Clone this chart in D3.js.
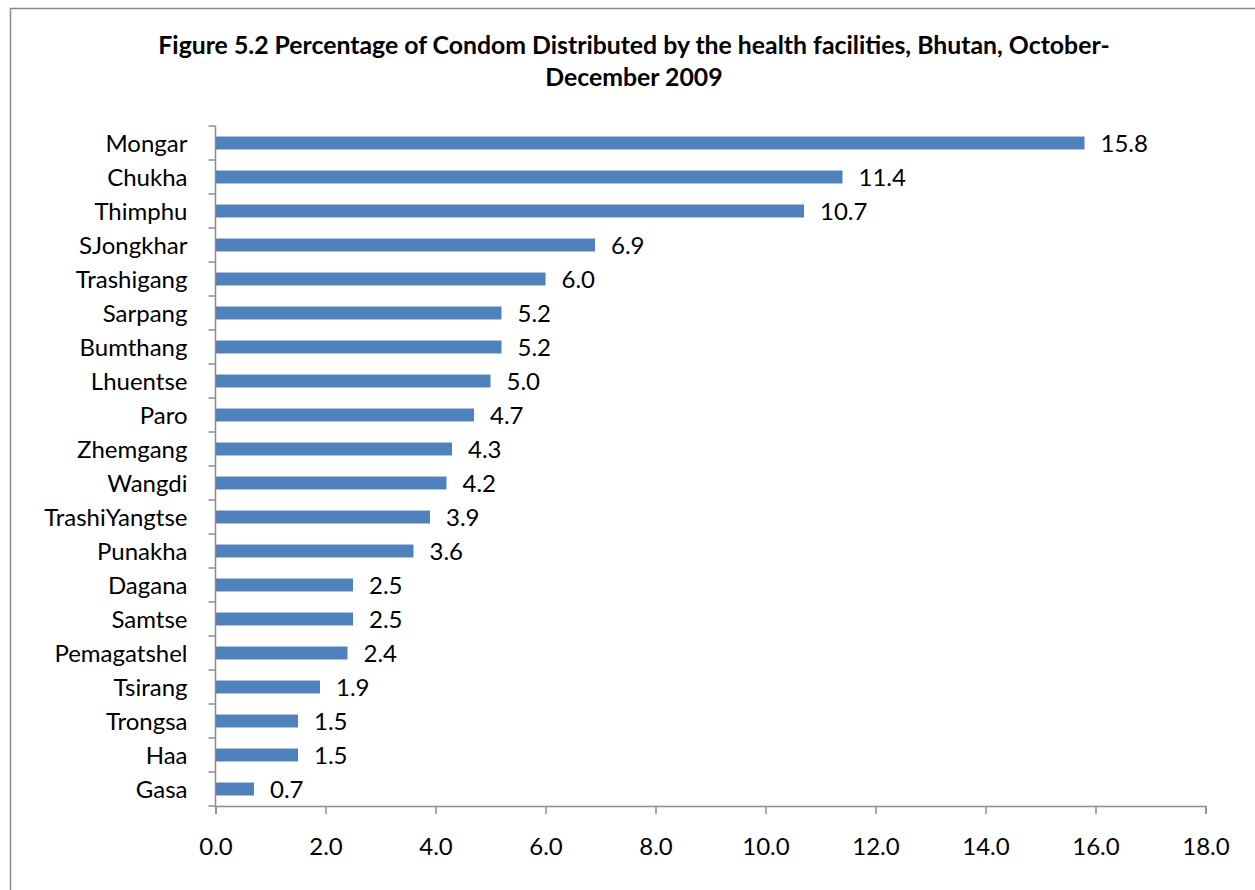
<!DOCTYPE html>
<html>
<head>
<meta charset="utf-8">
<script src="https://cdn.jsdelivr.net/npm/d3@7/dist/d3.min.js"></script>
<style>
  html, body { margin: 0; padding: 0; background: #fff; }
  svg { display: block; }
  text { font-family: Lato, "Liberation Sans", sans-serif; fill: #000; }
</style>
</head>
<body>
<script>
// District names and the share of condoms distributed (%)
const districts = ["Mongar", "Chukha", "Thimphu", "SJongkhar", "Trashigang", "Sarpang",
  "Bumthang", "Lhuentse", "Paro", "Zhemgang", "Wangdi", "TrashiYangtse", "Punakha",
  "Dagana", "Samtse", "Pemagatshel", "Tsirang", "Trongsa", "Haa", "Gasa"];
const shares = [15.8, 11.4, 10.7, 6.9, 6.0, 5.2, 5.2, 5.0, 4.7, 4.3, 4.2, 3.9, 3.6,
  2.5, 2.5, 2.4, 1.9, 1.5, 1.5, 0.7];
const xTicks = [0, 2, 4, 6, 8, 10, 12, 14, 16, 18];
const titleLines = ["Figure 5.2 Percentage of Condom Distributed by the health facilities, Bhutan, October-",
  "December 2009"];

const W = 1255, H = 890;
const svg = d3.select("body").append("svg").attr("width", W).attr("height", H);

// outer chart frame
svg.append("rect")
  .attr("x", 10.5).attr("y", 8.5).attr("width", W + 20).attr("height", H + 20)
  .attr("fill", "none").attr("stroke", "#8a8a8a").attr("stroke-width", 1.5);

// title
svg.append("g").selectAll("text").data(titleLines).join("text")
  .attr("x", 634).attr("y", (d, i) => 54 + i * 32)
  .attr("text-anchor", "middle")
  .attr("font-size", 24.8).attr("font-weight", "bold")
  .text(d => d);

const rows = districts.map((d, i) => ({ name: d, value: shares[i] }));

const x = d3.scaleLinear().domain([0, 18]).range([215.5, 1205.5]);
const y = d3.scaleBand().domain(districts).range([126, 806])
  .paddingInner(0.62).paddingOuter(0.31);

const axisColor = "#8c8c8c";
const labelSize = 24;

// bars
svg.append("g").selectAll("rect").data(rows).join("rect")
  .attr("x", x(0))
  .attr("y", d => y(d.name))
  .attr("width", d => x(d.value) - x(0))
  .attr("height", y.bandwidth())
  .attr("fill", "#4F81BD");

// value labels
svg.append("g").selectAll("text").data(rows).join("text")
  .attr("x", d => x(d.value) + 16)
  .attr("y", d => y(d.name) + y.bandwidth() / 2)
  .attr("dy", "0.36em")
  .attr("font-size", labelSize)
  .text(d => d.value.toFixed(1));

// x axis
const xAxis = svg.append("g").attr("transform", "translate(0,806)")
  .call(d3.axisBottom(x).tickValues(xTicks).tickSize(8).tickPadding(14)
    .tickFormat(d => d.toFixed(1)));
xAxis.select(".domain").attr("stroke", axisColor).attr("stroke-width", 1.5);
xAxis.selectAll(".tick line").attr("stroke", axisColor).attr("stroke-width", 1.5);
xAxis.selectAll(".tick text")
  .attr("y", 49).attr("dy", null)
  .attr("font-size", labelSize).attr("font-family", "Lato, sans-serif").attr("fill", "#000");

// y axis: ticks sit on the category boundaries
const yAxisG = svg.append("g").attr("transform", "translate(215.5,0)");
yAxisG.append("line").attr("x1", 0).attr("x2", 0).attr("y1", 126).attr("y2", 806)
  .attr("stroke", axisColor).attr("stroke-width", 1.5);
const bounds = d3.range(districts.length + 1).map(i => 126 + i * y.step());
yAxisG.selectAll("line.tk").data(bounds).join("line").attr("class", "tk")
  .attr("x1", -7).attr("x2", 0).attr("y1", d => d).attr("y2", d => d)
  .attr("stroke", axisColor).attr("stroke-width", 1.5);
yAxisG.selectAll("text").data(districts).join("text")
  .attr("x", -28)
  .attr("y", d => y(d) + y.bandwidth() / 2)
  .attr("dy", "0.36em")
  .attr("text-anchor", "end")
  .attr("font-size", labelSize)
  .text(d => d);
</script>
</body>
</html>
